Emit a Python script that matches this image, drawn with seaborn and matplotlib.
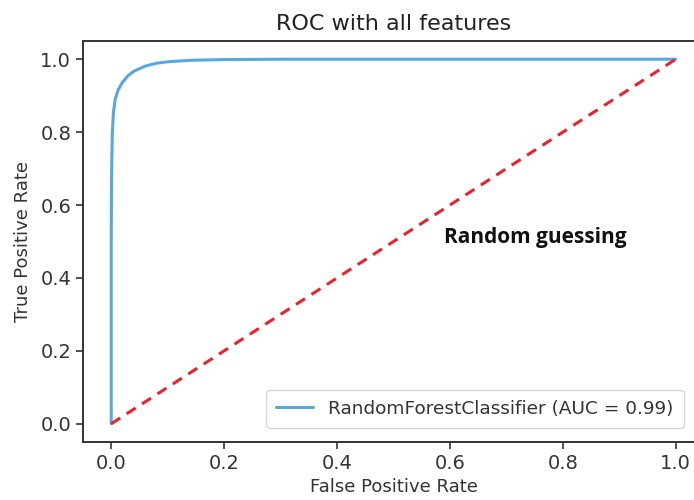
import matplotlib
matplotlib.use("Agg")
import matplotlib.pyplot as plt
import seaborn as sns
import numpy as np

fpr = [0.0, 0.0, 0.0005, 0.001, 0.002, 0.004, 0.007, 0.012, 0.02, 0.03, 0.04, 0.06, 0.08, 0.10, 0.14, 0.20, 0.30, 0.50, 1.0]
tpr = [0.0, 0.50, 0.65, 0.72, 0.80, 0.855, 0.89, 0.915, 0.937, 0.955, 0.967, 0.981, 0.989, 0.993, 0.997, 0.999, 1.0, 1.0, 1.0]
diag_x = [0.0, 1.0]
diag_y = [0.0, 1.0]
ticks = [0.0, 0.2, 0.4, 0.6, 0.8, 1.0]
legend_label = "RandomForestClassifier (AUC = 0.99)"

sns.set_style("ticks")
plt.rcParams['font.family'] = ['DejaVu Sans']

fig = plt.figure(figsize=(6.94, 5.0), dpi=100)
ax = fig.add_axes([83/694, 58/500, 621/694, 401/500])

sns.lineplot(x=fpr, y=tpr, estimator=None, sort=False, ax=ax,
             color="#56a8de", linewidth=2.2, label=legend_label)
sns.lineplot(x=diag_x, y=diag_y, estimator=None, sort=False, ax=ax,
             color="#e8232b", linewidth=2.2, linestyle=(0, (3.5, 2.5)))

ax.set_xlim(-0.05, 1.05)
ax.set_ylim(-0.05, 1.05)
ax.set_xticks(ticks)
ax.set_yticks(ticks)
ax.set_xticklabels([f"{t:.1f}" for t in ticks])
ax.set_yticklabels([f"{t:.1f}" for t in ticks])
ax.tick_params(labelsize=14, length=5, width=1.2, color="#333333", labelcolor="#333333")
for s in ax.spines.values():
    s.set_visible(True)
    s.set_linewidth(1.4)
    s.set_color("#333333")

ax.set_xlabel("False Positive Rate", fontsize=13, color="#333333", labelpad=4)
ax.set_ylabel("True Positive Rate", fontsize=13, color="#333333", labelpad=6)
ax.set_title("ROC with all features", fontsize=16, color="#222222", pad=8)

ax.text(0.59, 0.51, "Random guessing", fontsize=15, fontweight="bold",
        family=["Open Sans", "DejaVu Sans"], color="#111111", va="center", ha="left")

leg = ax.legend(loc="lower right", bbox_to_anchor=(0.982, 0.012), fontsize=13.3,
                frameon=True, handlelength=2.0, borderpad=0.55)
leg.get_frame().set_edgecolor("#cccccc")
leg.get_frame().set_linewidth(1.0)
for t in leg.get_texts():
    t.set_color("#333333")

fig.savefig("out.png", dpi=100)
